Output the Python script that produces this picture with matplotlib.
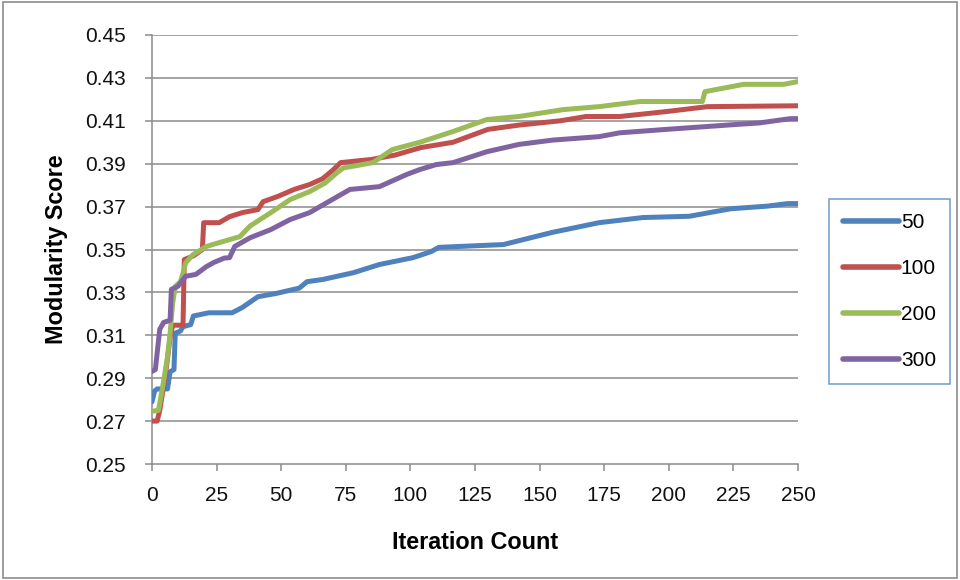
import matplotlib
matplotlib.use("Agg")
import matplotlib.pyplot as plt
from matplotlib.patches import Rectangle

# Modularity score by iteration for four population sizes
iter_50 = [0, 1, 2, 6, 7, 8.5, 9, 11, 12, 15, 16, 22, 31, 35, 41, 48, 57, 60, 66,
           78, 88, 101, 108, 111, 136, 155, 173, 190, 208, 224, 238, 246, 250]
score_50 = [0.279, 0.284, 0.285, 0.285, 0.293, 0.294, 0.311, 0.312, 0.314, 0.315,
            0.319, 0.3205, 0.3205, 0.323, 0.328, 0.3295, 0.332, 0.335, 0.336,
            0.3392, 0.343, 0.3462, 0.349, 0.351, 0.3523, 0.358, 0.3625, 0.3649,
            0.3655, 0.369, 0.3702, 0.3714, 0.3714]

iter_100 = [0, 2, 3, 5, 6, 7, 8, 12, 12.5, 16, 19.5, 20, 26, 30, 35, 41, 43, 48.6,
            55, 61, 66, 70, 73, 85, 94, 104, 116.5, 130, 142, 158, 168, 181, 199,
            215, 250]
score_100 = [0.270, 0.270, 0.275, 0.290, 0.299, 0.309, 0.3147, 0.3147, 0.3453,
             0.347, 0.350, 0.3625, 0.3625, 0.3653, 0.3672, 0.3686, 0.3723, 0.3747,
             0.378, 0.3803, 0.383, 0.387, 0.3905, 0.392, 0.394, 0.3975, 0.400,
             0.406, 0.408, 0.410, 0.412, 0.412, 0.4143, 0.4166, 0.417]

iter_200 = [0, 2.5, 4, 6, 7, 8, 9, 11, 12, 13, 16, 21, 26, 30, 34, 38, 46, 53.5,
            61, 67, 71.6, 74, 85.5, 93, 103.7, 116.5, 129.6, 142, 159, 173, 189,
            213, 214, 229, 244.5, 250]
score_200 = [0.2746, 0.275, 0.285, 0.300, 0.311, 0.325, 0.3328, 0.335, 0.339,
             0.3438, 0.3477, 0.3514, 0.3532, 0.3546, 0.356, 0.361, 0.3672, 0.3733,
             0.377, 0.381, 0.3858, 0.388, 0.3905, 0.3966, 0.400, 0.405, 0.4106,
             0.412, 0.4152, 0.4166, 0.419, 0.419, 0.4236, 0.427, 0.427, 0.4283]

iter_300 = [0, 1.3, 3, 4.5, 7, 7.5, 10, 13, 17, 21, 24, 28, 30, 32, 38, 46, 53.5,
            61, 65, 76.6, 88, 98.6, 103.7, 110, 116.5, 129.6, 142, 155, 173, 181,
            199, 225, 235, 247, 250]
score_300 = [0.2932, 0.294, 0.3128, 0.316, 0.317, 0.3314, 0.3328, 0.3375, 0.3384,
             0.342, 0.344, 0.346, 0.3462, 0.3514, 0.3555, 0.3593, 0.364, 0.3672,
             0.370, 0.378, 0.3793, 0.385, 0.3873, 0.3896, 0.3905, 0.3956, 0.399,
             0.401, 0.4026, 0.4044, 0.406, 0.4082, 0.409, 0.411, 0.411]

series_labels = ["50", "100", "200", "300"]
series_colors = ["#4F81BD", "#C0504D", "#9BBB59", "#8064A2"]

x_ticks = [0, 25, 50, 75, 100, 125, 150, 175, 200, 225, 250]
y_ticks = [0.25, 0.27, 0.29, 0.31, 0.33, 0.35, 0.37, 0.39, 0.41, 0.43, 0.45]

plt.rcParams["font.family"] = ["Liberation Sans", "DejaVu Sans"]

fig = plt.figure(figsize=(9.6, 5.8), dpi=100)
ax = fig.add_axes([152 / 960, 1 - 464 / 580, 646 / 960, 429 / 580])

grid_color = "#8C8C8C"
for y in y_ticks[1:]:
    ax.axhline(y, color=grid_color, lw=1.1, zorder=1)

xs = [iter_50, iter_100, iter_200, iter_300]
ys = [score_50, score_100, score_200, score_300]
for x, y, lab, col in zip(xs, ys, series_labels, series_colors):
    ax.plot(x, y, color=col, lw=3.6, label=lab, zorder=3,
            solid_capstyle="round", solid_joinstyle="round")

ax.set_xlim(0, 250)
ax.set_ylim(0.25, 0.45)
ax.set_xticks(x_ticks)
ax.set_yticks(y_ticks)
ax.set_yticklabels([f"{v:.2f}" for v in y_ticks])

for s in ["top", "right"]:
    ax.spines[s].set_visible(False)
for s in ["left", "bottom"]:
    ax.spines[s].set_color(grid_color)
    ax.spines[s].set_linewidth(1.1)

ax.tick_params(axis="both", direction="out", color=grid_color, width=1.1,
               length=5, labelsize=15, labelcolor="#111111")
ax.tick_params(axis="y", pad=14)
ax.tick_params(axis="x", pad=11)

ax.set_xlabel("Iteration Count", fontsize=16.8, fontweight="bold")
ax.set_ylabel("Modularity Score", fontsize=16.8, fontweight="bold")
ax.xaxis.set_label_coords(0.5, -0.157)
ax.yaxis.set_label_coords(-0.13, 0.5)

leg = fig.legend(loc="center left", bbox_to_anchor=(829 / 960, 1 - 291.5 / 580),
                 fontsize=15, frameon=True, fancybox=False, handlelength=2.7,
                 handletextpad=0.1, labelspacing=1.3, borderpad=0.65,
                 borderaxespad=0)
leg.get_frame().set_edgecolor("#4F81BD")
leg.get_frame().set_linewidth(1.1)
for line in leg.get_lines():
    line.set_linewidth(4)

# Thin outer frame around the whole chart area
fig.patches.append(Rectangle((0.003, 0.003), 0.994, 0.994, transform=fig.transFigure,
                             fill=False, edgecolor="#8C8C8C", lw=1.2))

fig.savefig("out.png", dpi=100)
